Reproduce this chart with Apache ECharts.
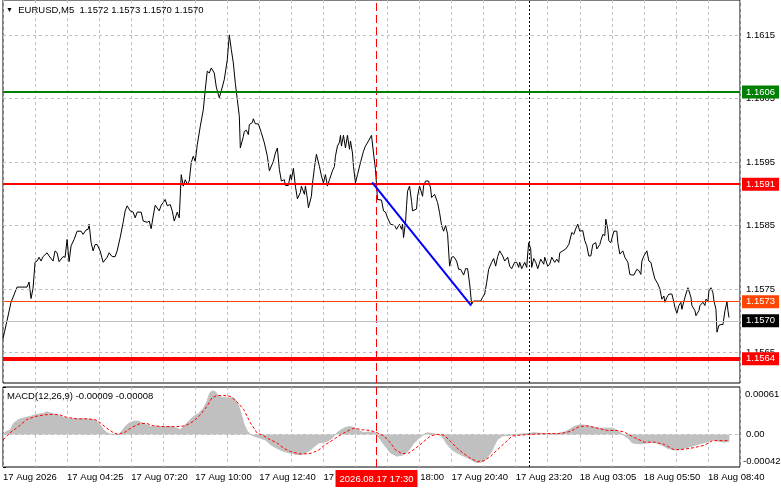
<!DOCTYPE html>
<html>
<head>
<meta charset="utf-8">
<title>EURUSD,M5</title>
<script src="https://cdn.jsdelivr.net/npm/echarts/dist/echarts.min.js"></script>
<style>
    html, body { margin: 0; padding: 0; background: #fff; }
    #chart { width: 781px; height: 489px; }
</style>
</head>
<body>
<div id="chart"></div>
<script type="text/javascript">
    // ---- data (x = bar number on the M5 chart, 0 = first visible bar) ----
    var titleText = 'EURUSD,M5  1.1572 1.1573 1.1570 1.1570';
    var macdTitle = 'MACD(12,26,9) -0.00009 -0.00008';

    // close price line [bar, price]
    var priceLine = [
        [0,1.15672],[2,1.15700],[4,1.15729],[7,1.15753],[12,1.15753],[13,1.15761],[14,1.15735],[15,1.15751],
        [16,1.15792],[17,1.15794],[18,1.15800],[19,1.15794],[20,1.15801],[22,1.15807],[23,1.15802],[25,1.15794],
        [26,1.15810],[27,1.15807],[28,1.15793],[30,1.15801],[31,1.15800],[32,1.15828],[33,1.15793],[34,1.15818],
        [35.5,1.15828],[37,1.15841],[39,1.15841],[40,1.15836],[41.5,1.15843],[42.5,1.15844],[43,1.15852],[44,1.15823],
        [45,1.15810],[46,1.15820],[47,1.15820],[48.5,1.15810],[50,1.15792],[52,1.15800],[53,1.15807],[54.5,1.15801],
        [56,1.15801],[57,1.15810],[58.5,1.15831],[60,1.15855],[61,1.15873],[62,1.15881],[63.5,1.15873],[65,1.15871],
        [66,1.15862],[67,1.15871],[69,1.15871],[70,1.15857],[72,1.15855],[73,1.15857],[74,1.15845],[75,1.15865],
        [76,1.15882],[78,1.15873],[79,1.15882],[80,1.15886],[81,1.15891],[82,1.15881],[83.5,1.15883],[84.5,1.15873],
        [85.5,1.15857],[86,1.15855],[87,1.15871],[88,1.15862],[89,1.15930],[90,1.15912],[91,1.15922],[92,1.15915],
        [93,1.15920],[94,1.15949],[95,1.15959],[96,1.15951],[97,1.15977],[98.5,1.16006],[100,1.16032],[101,1.16064],
        [102,1.16093],[103,1.16090],[104,1.16098],[105.5,1.16090],[106.5,1.16068],[108,1.16051],[109.5,1.16068],[110.5,1.16080],
        [112,1.16111],[113,1.16150],[114,1.16127],[115,1.16106],[116,1.16074],[117,1.16048],[118,1.16022],[118.5,1.15972],
        [120,1.15990],[120.5,1.15998],[121.5,1.16000],[122.5,1.15993],[123,1.16009],[124.5,1.16012],[125,1.16018],[126,1.16010],
        [127.5,1.16010],[129,1.15996],[130.5,1.15980],[132,1.15959],[133,1.15936],[135,1.15951],[136,1.15964],[137,1.15972],
        [138,1.15938],[139,1.15920],[140.5,1.15922],[141,1.15913],[142.5,1.15913],[143.5,1.15930],[144,1.15922],[145,1.15940],
        [146,1.15912],[147,1.15892],[148.5,1.15902],[149,1.15912],[150.5,1.15899],[151,1.15912],[152,1.15892],[152.5,1.15878],
        [154,1.15896],[154.5,1.15915],[155.5,1.15941],[156.5,1.15962],[158,1.15943],[159,1.15928],[160,1.15917],[161,1.15930],
        [162,1.15912],[163,1.15922],[164.5,1.15936],[165.5,1.15943],[166,1.15959],[167,1.15975],[168,1.15981],[168.5,1.15992],
        [169,1.15975],[170,1.15992],[171,1.15972],[172,1.15992],[173,1.15970],[173.5,1.15983],[174.5,1.15964],[175,1.15943],
        [176,1.15917],[177,1.15930],[178.5,1.15949],[180,1.15967],[181,1.15975],[182.5,1.15983],[184,1.15992],[185,1.15964],
        [186,1.15938],[187,1.15891],[189,1.15890],[190,1.15873],[191,1.15871],[192,1.15862],[193.5,1.15852],[195.5,1.15850],
        [196.5,1.15844],[198,1.15852],[199,1.15844],[199.5,1.15852],[200,1.15831],[201,1.15855],[201.5,1.15881],[202,1.15904],
        [203,1.15912],[204,1.15888],[204.5,1.15873],[206.5,1.15876],[207,1.15896],[208,1.15912],[209.5,1.15896],[210,1.15912],
        [211,1.15920],[212.5,1.15920],[213.5,1.15909],[214,1.15894],[215.5,1.15899],[217,1.15886],[218,1.15870],[219,1.15850],
        [220,1.15841],[221,1.15850],[222,1.15836],[223,1.15786],[224,1.15800],[225,1.15801],[226.5,1.15794],[227.5,1.15781],
        [228.5,1.15781],[230,1.15772],[231,1.15782],[232,1.15782],[233,1.15758],[234,1.15726],[235,1.15731],[238.5,1.15731],
        [239.5,1.15737],[240.5,1.15742],[241.5,1.15760],[242.5,1.15781],[244,1.15792],[245,1.15798],[246,1.15786],[247,1.15801],
        [248,1.15810],[249.5,1.15802],[250.5,1.15794],[252,1.15800],[253,1.15786],[254,1.15782],[255.5,1.15792],[256.5,1.15792],
        [257.5,1.15784],[258,1.15792],[259,1.15782],[260.5,1.15792],[261.5,1.15784],[262,1.15805],[262.5,1.15823],[263.5,1.15813],
        [264,1.15784],[265,1.15798],[266,1.15792],[267,1.15782],[268.5,1.15797],[270,1.15789],[270.5,1.15800],[272,1.15786],
        [273,1.15789],[274,1.15800],[275.5,1.15792],[276.5,1.15797],[277.5,1.15792],[278,1.15807],[279.5,1.15810],[281,1.15813],
        [282.5,1.15820],[283,1.15823],[284,1.15839],[285,1.15836],[286,1.15845],[287,1.15852],[288,1.15841],[289.5,1.15842],
        [290.5,1.15826],[291.5,1.15818],[292.5,1.15802],[293.5,1.15802],[294.5,1.15820],[296,1.15823],[296.5,1.15813],[298,1.15820],
        [298.5,1.15826],[299.5,1.15836],[300.5,1.15834],[301,1.15860],[302,1.15844],[302.5,1.15826],[303.5,1.15823],[305,1.15841],
        [306.5,1.15841],[307,1.15823],[308,1.15805],[309.5,1.15810],[310.5,1.15800],[312,1.15792],[313,1.15773],[314,1.15772],
        [315,1.15772],[316.5,1.15781],[317.5,1.15779],[318.5,1.15773],[319,1.15794],[320,1.15802],[321.5,1.15810],[322.5,1.15794],
        [323.5,1.15792],[324.5,1.15778],[325.5,1.15766],[327,1.15758],[328,1.15750],[329,1.15734],[330,1.15739],[330.5,1.15729],
        [331.5,1.15737],[332.5,1.15742],[334,1.15742],[335,1.15729],[335.5,1.15721],[336.5,1.15712],[337.5,1.15724],[338.5,1.15729],
        [339,1.15718],[340,1.15731],[341,1.15742],[342,1.15752],[343.5,1.15737],[344,1.15724],[345.5,1.15716],[346,1.15708],
        [347.5,1.15716],[348,1.15724],[349.5,1.15729],[350.5,1.15724],[351,1.15734],[352,1.15731],[352.5,1.15747],[353.5,1.15752],
        [354.5,1.15744],[355,1.15731],[356,1.15718],[356.5,1.15682],[357.5,1.15693],[358.5,1.15694],[359.5,1.15694],[360.5,1.15716],
        [361.5,1.15730],[362,1.15716],[362.5,1.15705]
    ];

    // blue trend line drawn on the chart [bar, price]
    var trendLine = [[184.3, 1.15918], [233.8, 1.15724]];

    // horizontal levels and their price tags
    var levelVal = [1.1606, 1.15915, 1.1573, 1.1570, 1.1564];
    var levelTag = ['1.1606', '1.1591', '1.1573', '1.1570', '1.1564'];

    // MACD main (histogram) [bar, value]
    var macdHist = [
        [0,0],[1.8,0.00004],[3.5,0.00005],[5.2,0.00014],[7.7,0.00019],[10.2,0.00021],[13.5,0.00023],[16,0.00025],
        [17.7,0.00026],[20.2,0.00027],[21.8,0.00029],[24.3,0.00027],[26.8,0.00025],[30.2,0.00022],[32.7,0.0002],[36.8,0.0002],
        [41.8,0.0002],[45.2,0.00019],[46.8,0.00017],[48.5,0.00012],[50.2,0.00006],[51.8,0.00002],[54.3,0],[57.7,0],
        [59.3,0.00004],[61,0.0001],[62.7,0.00014],[65.2,0.00017],[67.7,0.00017],[69.3,0.00015],[71.8,0.00012],[74.3,0.0001],
        [78.5,0.0001],[83.5,0.0001],[86.8,0.00008],[88.5,0.00006],[90.2,0.0001],[92.7,0.00017],[95.2,0.00023],[97.7,0.00027],
        [100.2,0.00034],[101.8,0.00042],[103.2,0.00053],[104.3,0.00056],[106,0.00055],[107.7,0.00049],[110.2,0.00047],[112.7,0.00047],
        [115.2,0.00047],[116.8,0.00042],[118.5,0.0003],[120.5,0.00012],[122,0.00004],[123.5,0],[125.2,-0.00002],[128.5,-0.00005],
        [131,-0.00007],[133.5,-0.00013],[136.8,-0.00018],[140.2,-0.00022],[143.5,-0.00024],[146.8,-0.00026],[149.3,-0.00026],[151,-0.00024],
        [153.5,-0.0002],[155.2,-0.00016],[157.7,-0.00011],[160.2,-0.0001],[162.7,-0.00008],[164.3,-0.00005],[166,0],[167.7,0.00004],
        [170.2,0.00008],[172.7,0.0001],[175.2,0.00009],[177.7,0.00005],[180.2,0.00002],[181.8,0.00003],[184.3,0.00003],[186,0.00002],
        [187.7,-0.00004],[190.2,-0.00013],[191.8,-0.00018],[193.5,-0.00024],[196.8,-0.00028],[200.2,-0.00026],[202.7,-0.0002],[205.2,-0.00011],
        [207.7,-0.00005],[210.2,0],[211.8,0.00002],[214.3,0.00001],[216.8,0],[219.2,-0.00002],[221.8,-0.00013],[224.3,-0.0002],
        [226.8,-0.00024],[230.2,-0.00028],[233.5,-0.00032],[236,-0.00036],[238.5,-0.00036],[241,-0.00032],[243.5,-0.00024],[245.2,-0.00015],
        [246.8,-0.00007],[249.3,-0.00002],[253.5,-0.00001],[256.8,0],[261.8,0.00001],[265.2,0.00002],[270.2,0.00001],[276.8,0.00001],
        [280.2,0.00003],[282.7,0.00006],[285.2,0.0001],[287.7,0.00012],[290.2,0.00012],[293.5,0.0001],[297.7,0.00008],[301,0.00008],
        [304.3,0.00008],[306.8,0.00005],[309.3,0],[311.8,-0.00004],[314.3,-0.00011],[317.7,-0.00012],[321.8,-0.00011],[325.2,-0.0001],
        [328.5,-0.00013],[331.8,-0.00018],[335.2,-0.0002],[338.5,-0.00019],[342.7,-0.00016],[346.8,-0.00013],[351,-0.0001],[354.3,-0.00007],
        [357.7,-0.00009],[360.2,-0.0001],[362.7,-0.00009]
    ];

    // MACD signal line [bar, value]
    var macdSignal = [
        [0,-0.00007],[3.5,0.00002],[7.7,0.0001],[11.8,0.00019],[16,0.00023],[20.2,0.00025],[25.2,0.00026],[28.5,0.00025],
        [31.8,0.00022],[36.8,0.0002],[41.8,0.0002],[46,0.00019],[48.5,0.00015],[51.8,0.00008],[55.2,0.00002],[57.7,0],
        [61,0.00003],[64.3,0.00009],[68.5,0.00014],[71.8,0.00014],[75.2,0.00011],[80.2,0.0001],[86.8,0.0001],[91,0.00011],
        [95.2,0.00017],[98.5,0.00025],[101.8,0.00036],[104.3,0.00047],[106.8,0.0005],[110.2,0.0005],[113.5,0.00049],[116.8,0.00042],
        [120.2,0.00032],[123.5,0.00015],[126.8,0.00002],[130.2,-0.00002],[133.5,-0.00007],[136.8,-0.00011],[140.2,-0.00018],[143.5,-0.00022],
        [147.7,-0.00025],[151.8,-0.00025],[154.3,-0.00024],[157.7,-0.0002],[161,-0.00013],[164.3,-0.00008],[167.7,-0.00002],[171.8,0.00004],
        [175.2,0.00008],[179.3,0.00006],[183.5,0.00005],[186.8,0.00002],[190.2,-0.00002],[193.5,-0.00011],[196,-0.0002],[199.3,-0.00025],
        [202.7,-0.00024],[206,-0.00018],[210.2,-0.00009],[213.5,-0.00002],[216.8,0],[220.2,-0.00001],[223.5,-0.00009],[226.8,-0.00018],
        [230.2,-0.00025],[233.5,-0.00031],[236.8,-0.00035],[240.2,-0.00034],[243.5,-0.00028],[246.8,-0.0002],[251,-0.0001],[254.3,-0.00002],
        [258.5,-0.00001],[263.5,0],[270.2,0.00001],[278.5,0.00001],[283.5,0.00004],[287.7,0.0001],[291.8,0.00011],[296.8,0.00008],
        [301.8,0.00005],[306.8,0.00005],[310.2,0.00003],[315.2,-0.00004],[320.2,-0.0001],[325.2,-0.0001],[330.2,-0.00013],[335.2,-0.0002],
        [340.2,-0.00019],[345.2,-0.00017],[350.2,-0.00014],[354.3,-0.00008],[357.7,-0.00008],[361.8,-0.00008]
    ];

    // axis ticks
    var priceTicks = [1.1565, 1.1575, 1.1585, 1.1595, 1.1605, 1.1615];
    var macdTicks = [-0.00042, 0, 0.00061];
    // time label every 32 bars
    var timeLabels = ['17 Aug 2026', '17 Aug 04:25', '17 Aug 07:20', '17 Aug 10:00', '17 Aug 12:40', '17 Aug 15:20',
        '17 Aug 18:00', '17 Aug 20:40', '17 Aug 23:20', '18 Aug 03:05', '18 Aug 05:50', '18 Aug 08:40'];
    var cursorBar = 186.5;            // red dashed vertical line
    var cursorLabel = '2026.08.17 17:30';
    var daySepBar = 263;              // black dotted day separator

    // ---- styles ----
    var FONT = 'Liberation Sans, Arial, sans-serif';
    var FS = 9.5;
    var levelStyle = [
        { line: '#008000', width: 2, tag: '#008000' },
        { line: '#ff0000', width: 2, tag: '#ff0000' },
        { line: '#ff4500', width: 1, tag: '#ff4500' },
        { line: '#c0c0c0', width: 1, tag: '#000000' },
        { line: '#ff0000', width: 4, tag: '#ff0000' }
    ];
    var gridDash = { color: '#c0c0c0', type: [3, 3], width: 1 };

    function vMarkers(withLabel) {
        return [
            {
                xAxis: cursorBar,
                lineStyle: { color: '#ff0000', type: [8, 4], width: 1 },
                label: withLabel ? {
                    show: true, position: 'start', distance: 3,
                    formatter: cursorLabel, color: '#fff', backgroundColor: '#ff0000',
                    padding: [4, 4, 3, 4], fontFamily: FONT, fontSize: FS
                } : { show: false }
            },
            {
                xAxis: daySepBar,
                lineStyle: { color: '#000', type: [2, 2], width: 1 },
                label: { show: false }
            }
        ];
    }

    var xBase = {
        type: 'value', min: 0, max: 368, interval: 16,
        axisLine: { show: false }, axisTick: { show: false },
        splitLine: { show: true, lineStyle: gridDash }
    };

    var myChart = echarts.init(document.getElementById('chart'));
    myChart.setOption({
        animation: false,
        backgroundColor: '#fff',
        title: [
            {
                left: 6, top: 5, padding: 0,
                text: '{t|▼}  ' + titleText,
                textStyle: {
                    fontFamily: FONT, fontSize: FS, fontWeight: 'normal', color: '#000',
                    rich: { t: { fontSize: 7, color: '#000' } }
                }
            },
            {
                left: 7, top: 391, padding: 0,
                text: macdTitle,
                textStyle: { fontFamily: FONT, fontSize: FS, fontWeight: 'normal', color: '#000' }
            }
        ],
        // outerBoundsMode none: keep the panes where MT4 has them, labels may run to the edge
        grid: [
            { left: 3, right: 41, top: 0, height: 383, outerBoundsMode: 'none', containLabel: false,
              show: true, borderColor: '#000', borderWidth: 1, backgroundColor: '#fff' },
            { left: 3, right: 41, top: 387, height: 80, outerBoundsMode: 'none', containLabel: false,
              show: true, borderColor: '#000', borderWidth: 1, backgroundColor: '#fff' }
        ],
        xAxis: [
            Object.assign({}, xBase, { gridIndex: 0, axisLabel: { show: false } }),
            Object.assign({}, xBase, {
                gridIndex: 1,
                axisLabel: {
                    show: true, align: 'left', margin: 5, color: '#000', fontFamily: FONT, fontSize: FS,
                    formatter: function (v) {
                        return v % 32 === 0 ? (timeLabels[v / 32] || '') : '';
                    }
                }
            })
        ],
        yAxis: [
            {
                type: 'value', gridIndex: 0, position: 'right', min: 1.15602, max: 1.16205, scale: true,
                axisLine: { show: false }, splitLine: { show: false },
                axisTick: { show: true, customValues: priceTicks, length: 3, lineStyle: { color: '#000' } },
                axisLabel: {
                    customValues: priceTicks, margin: 6, color: '#000', fontFamily: FONT, fontSize: FS,
                    formatter: function (v) { return v.toFixed(4); }
                }
            },
            {
                type: 'value', gridIndex: 1, position: 'right', min: -0.00042, max: 0.00061,
                axisLine: { show: false }, splitLine: { show: false },
                axisTick: { show: true, customValues: macdTicks, length: 3, lineStyle: { color: '#000' } },
                axisLabel: {
                    customValues: macdTicks, margin: 3, color: '#000', fontFamily: FONT, fontSize: FS,
                    formatter: function (v) {
                        var s = v === 0 ? '0.00' : v.toFixed(5);
                        if (v > 0) return '{dn|' + s + '}';
                        if (v < 0) return '{up|' + s + '}';
                        return '{mid|' + s + '}';
                    },
                    rich: {
                        dn: { padding: [14, 0, 0, 2], fontFamily: FONT, fontSize: FS, color: '#000' },
                        mid: { padding: [0, 0, 0, 3], fontFamily: FONT, fontSize: FS, color: '#000' },
                        up: { padding: [0, 0, 12, 0], fontFamily: FONT, fontSize: FS, color: '#000' }
                    }
                }
            }
        ],
        series: [
            // horizontal price grid
            {
                type: 'line', xAxisIndex: 0, yAxisIndex: 0, data: [], z: 1,
                markLine: {
                    silent: true, precision: 6, symbol: ['none', 'none'], label: { show: false },
                    lineStyle: gridDash,
                    data: priceTicks.map(function (v) { return { yAxis: v }; })
                }
            },
            // vertical markers, main pane
            {
                type: 'line', xAxisIndex: 0, yAxisIndex: 0, data: [], z: 2,
                markLine: { silent: true, precision: 6, symbol: ['none', 'none'], data: vMarkers(false) }
            },
            // price
            {
                name: 'EURUSD', type: 'line', xAxisIndex: 0, yAxisIndex: 0, z: 3,
                data: priceLine, showSymbol: false,
                lineStyle: { color: '#000', width: 1 }
            },
            // levels with price tags
            {
                type: 'line', xAxisIndex: 0, yAxisIndex: 0, data: [], z: 4,
                markLine: {
                    silent: true, precision: 6, symbol: ['none', 'none'],
                    data: levelVal.map(function (v, i) {
                        return {
                            yAxis: v,
                            lineStyle: { color: levelStyle[i].line, width: levelStyle[i].width, type: 'solid' },
                            label: {
                                show: true, position: 'end', distance: 2, formatter: levelTag[i],
                                color: '#fff', backgroundColor: levelStyle[i].tag,
                                padding: [2, 4, 1, 4], fontFamily: FONT, fontSize: FS
                            }
                        };
                    })
                }
            },
            // blue trend line
            {
                type: 'line', xAxisIndex: 0, yAxisIndex: 0, z: 5,
                data: trendLine, showSymbol: false,
                lineStyle: { color: '#0000ff', width: 2 }
            },
            // MACD zero level
            {
                type: 'line', xAxisIndex: 1, yAxisIndex: 1, data: [], z: 1,
                markLine: {
                    silent: true, precision: 6, symbol: ['none', 'none'], label: { show: false },
                    lineStyle: gridDash, data: [{ yAxis: 0 }]
                }
            },
            // MACD histogram
            {
                name: 'MACD', type: 'line', xAxisIndex: 1, yAxisIndex: 1, z: 2,
                data: macdHist, showSymbol: false,
                lineStyle: { color: '#c0c0c0', width: 1 },
                areaStyle: { color: '#c0c0c0', opacity: 1, origin: 0 }
            },
            // signal, carrying the vertical markers and the time tag of the MACD pane
            {
                name: 'Signal', type: 'line', xAxisIndex: 1, yAxisIndex: 1, z: 6,
                data: macdSignal, showSymbol: false,
                lineStyle: { color: '#ff0000', width: 1, type: [3, 2] },
                markLine: { silent: true, precision: 6, symbol: ['none', 'none'], data: vMarkers(true) }
            }
        ]
    });
</script>
</body>
</html>
